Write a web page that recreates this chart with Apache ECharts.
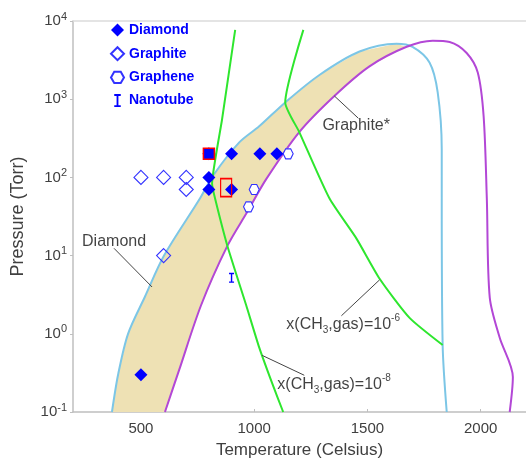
<!DOCTYPE html>
<html>
<head>
<meta charset="utf-8">
<script src="https://cdn.jsdelivr.net/npm/echarts@6/dist/echarts.min.js"></script>
<style>
  html, body { margin: 0; background: #fff; }
  #chart { width: 526px; height: 464px; }
</style>
</head>
<body>
<div id="chart"></div>
<script>
// all points are [temperature (C), pressure (Torr)]
const diamondEdge = [
  [372, 0.1], [399, 0.3], [443, 1.0], [518, 3.0], [602, 10], [761, 54], [818, 105],
  [934, 280], [1022, 450], [1137, 910], [1288, 2040], [1465, 4070],
  [1628, 5130], [1699, 4680], [1774, 2950], [1810, 1230], [1828, 230],
  [1828, 54], [1832, 0.72], [1850, 0.1]
];
const graphiteEdge = [
  [606, 0.1], [668, 0.34], [765, 2.3], [881, 13.2], [969, 36], [1053, 95],
  [1199, 380], [1354, 1100], [1509, 2630], [1673, 4680], [1788, 5600],
  [1863, 5400], [1938, 3900], [1987, 2190], [2013, 600], [2027, 54],
  [2040, 2.9], [2084, 0.89], [2142, 0.28], [2128, 0.1]
];
// shaded growth band: diamond edge up to the meeting point, then graphite edge back down
const bandMeet = [1670, 4700];
const ch3Low = [
  [916, 7700], [858, 550], [814, 83], [827, 54], [881, 13.5], [965, 2.3],
  [1022, 0.67], [1080, 0.23], [1128, 0.1]
];
const ch3High = [
  [1217, 7700], [1137, 910], [1199, 380], [1332, 54], [1451, 16.6],
  [1553, 5.1], [1686, 1.6], [1832, 0.72]
];

const diamondPts = [[500, 0.3], [800, 100], [800, 70], [800, 200], [900, 200], [1025, 200], [1100, 200], [900, 70]];
const graphitePts = [[500, 100], [600, 100], [700, 100], [700, 70], [600, 10]];
const graphenePts = [[1150, 200], [1000, 70], [975, 42]];
const nanotubePts = [[900, 5.2]];
const boxedPts = [[800, 200], [876, 74]];

const noteLabels = [
  'Graphite*',
  'Diamond',
  '{t|x(CH}{sub|3}{t|,gas)=10}{sup|-6}',
  '{t|x(CH}{sub|3}{t|,gas)=10}{sup|-8}'
];
const noteAt = [[1301, 466], [240, 15.2], [1142, 1.31], [1102, 0.226]];
const leaderFrom = [[1354, 1100], [381, 12.4], [1385, 1.7], [1035, 0.53]];
const leaderTo = [[1460, 570], [549, 3.97], [1553, 4.88], [1221, 0.295]];

const xTicks = [500, 1000, 1500, 2000];

const band = diamondEdge.slice(0, 13)
  .concat([bandMeet])
  .concat(graphiteEdge.slice(0, 9).reverse());

const font = '"Liberation Sans", Arial, sans-serif';
const axisGrey = '#bfbfbf';
const textGrey = '#404040';
const blue = '#0000ff';

const chart = echarts.init(document.getElementById('chart'));

const leaders = leaderFrom.map((p, i) => ({
  type: 'line',
  data: [p, leaderTo[i]],
  symbol: 'none',
  silent: true,
  lineStyle: { color: '#444', width: 1 },
  z: 3
}));

chart.setOption({
  animation: false,
  textStyle: { fontFamily: font },
  grid: { left: 73, right: 0, top: 21, bottom: 49 },
  legend: {
    data: ['Diamond', 'Graphite', 'Graphene', 'Nanotube'],
    orient: 'vertical',
    padding: 0,
    left: 110,
    top: 23,
    itemWidth: 13,
    itemHeight: 13,
    itemGap: 9.2,
    textStyle: { color: blue, fontWeight: 'bold', fontSize: 14, fontFamily: font }
  },
  xAxis: [
    {
      type: 'value',
      min: 200,
      max: 2200,
      name: 'Temperature (Celsius)',
      nameLocation: 'middle',
      nameGap: 30,
      nameTextStyle: { color: textGrey, fontSize: 17 },
      axisLine: { show: true, lineStyle: { color: axisGrey, width: 1.5 } },
      axisTick: { show: true, inside: true, length: 3, customValues: xTicks, lineStyle: { color: axisGrey } },
      axisLabel: { customValues: xTicks, formatter: (v) => String(v), color: textGrey, fontSize: 15, margin: 9 },
      splitLine: { show: false }
    },
    {
      type: 'value',
      position: 'top',
      min: 200,
      max: 2200,
      axisLine: { show: true, lineStyle: { color: '#dcdcdc', width: 1.5 } },
      axisTick: { show: false },
      axisLabel: { show: false },
      splitLine: { show: false }
    }
  ],
  yAxis: {
    type: 'log',
    logBase: 10,
    min: 0.1,
    max: 10000,
    name: 'Pressure (Torr)',
    nameLocation: 'middle',
    nameGap: 46,
    nameTextStyle: { color: textGrey, fontSize: 18 },
    axisLine: { show: true, lineStyle: { color: axisGrey, width: 1.5 } },
    axisTick: { show: true, length: 3, lineStyle: { color: axisGrey } },
    splitLine: { show: false },
    axisLabel: {
      margin: 6,
      formatter: (v) => '{b|10}{s|' + Math.round(Math.log10(v)) + '}',
      rich: {
        b: { color: textGrey, fontSize: 15, lineHeight: 20 },
        s: { color: textGrey, fontSize: 11, lineHeight: 12, verticalAlign: 'top' }
      }
    }
  },
  series: [
    {
      type: 'custom',
      silent: true,
      data: band,
      z: 1,
      renderItem: (params, api) => {
        if (params.dataIndex !== 0) return null;
        return {
          type: 'polygon',
          shape: { points: band.map((p) => api.coord(p)) },
          style: { fill: '#eee1b4' }
        };
      }
    },
    {
      type: 'line', data: diamondEdge, symbol: 'none', smooth: 0.3, silent: true, z: 2,
      lineStyle: { color: '#7cc6e6', width: 2 }
    },
    {
      type: 'line', data: graphiteEdge, symbol: 'none', smooth: 0.3, silent: true, z: 2,
      lineStyle: { color: '#b347d6', width: 2 }
    },
    {
      type: 'line', data: ch3Low, symbol: 'none', smooth: 0.15, silent: true, z: 2,
      lineStyle: { color: '#2ee62e', width: 2 }
    },
    {
      type: 'line', data: ch3High, symbol: 'none', smooth: 0.2, silent: true, z: 2,
      lineStyle: { color: '#2ee62e', width: 2 }
    },
    ...leaders,
    {
      type: 'scatter',
      data: noteAt,
      symbolSize: 0,
      silent: true,
      z: 4,
      label: {
        show: true,
        position: 'right',
        distance: 0,
        color: '#111',
        fontSize: 16,
        formatter: (p) => noteLabels[p.dataIndex],
        rich: {
          t: { color: '#111', fontSize: 16, lineHeight: 22 },
          sub: { color: '#111', fontSize: 10, lineHeight: 12, verticalAlign: 'bottom' },
          sup: { color: '#111', fontSize: 10, lineHeight: 12, verticalAlign: 'top' }
        }
      }
    },
    {
      name: 'Graphite', type: 'scatter', data: graphitePts, symbol: 'diamond', symbolSize: 14, z: 5,
      itemStyle: { color: 'rgba(255,255,255,0)', borderColor: '#3333ff', borderWidth: 1.1, opacity: 1 }
    },
    {
      name: 'Graphene', type: 'scatter', data: graphenePts, z: 5,
      symbol: 'path://M0,5 L2.5,0.7 L7.5,0.7 L10,5 L7.5,9.3 L2.5,9.3 Z', symbolSize: 10,
      itemStyle: { color: '#fff', borderColor: '#3333ff', borderWidth: 1.1, opacity: 1 }
    },
    {
      name: 'Nanotube', type: 'scatter', data: nanotubePts, z: 5,
      symbol: 'path://M0,0 H5 V1.4 H3.2 V8.6 H5 V10 H0 V8.6 H1.8 V1.4 H0 Z', symbolSize: [5, 10],
      itemStyle: { color: blue, opacity: 1 }
    },
    {
      name: 'Diamond', type: 'scatter', data: diamondPts, symbol: 'diamond', symbolSize: 13, z: 6,
      itemStyle: { color: blue, opacity: 1 }
    },
    {
      type: 'scatter',
      symbol: 'rect',
      silent: true,
      z: 7,
      data: boxedPts.map((p, i) => ({
        value: p,
        symbolSize: i === 0 ? [11, 11] : [11, 18],
        itemStyle: { color: i === 0 ? blue : 'rgba(255,255,255,0)', borderColor: '#ff0000', borderWidth: 1.5, opacity: 1 }
      }))
    }
  ]
});
</script>
</body>
</html>
